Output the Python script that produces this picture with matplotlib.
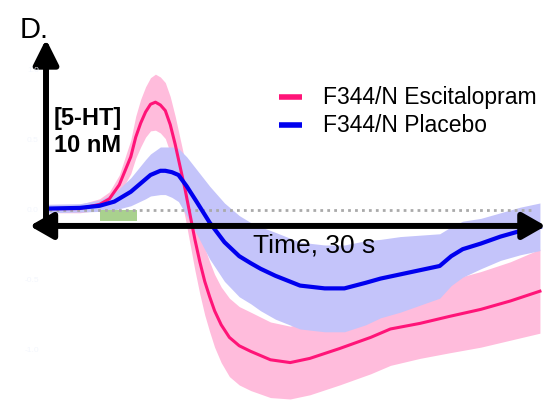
import matplotlib
matplotlib.use('Agg')
import matplotlib.pyplot as plt
import numpy as np

plt.rcParams['font.family'] = ['Liberation Sans', 'DejaVu Sans']

# time (s) and 5-HT change (nM)
esc_t = [0.0, 2.0, 3.2, 3.8, 4.4, 5.1, 5.4, 5.7, 6.0, 6.3, 6.6, 6.9, 7.2, 7.5, 7.8, 8.1,
         8.4, 8.7, 9.0, 9.3, 9.6, 9.9, 10.2, 10.6, 11.1, 11.7, 12.4, 13.6, 14.8, 16.0,
         17.8, 19.7, 20.9, 22.7, 24.5, 26.4, 28.2, 30.0]
esc_y = [0.01, 0.01, 0.04, 0.08, 0.18, 0.38, 0.52, 0.62, 0.70, 0.755, 0.77, 0.75, 0.71, 0.61, 0.47, 0.31,
         0.15, -0.03, -0.21, -0.37, -0.51, -0.62, -0.72, -0.82, -0.91, -0.97, -1.01, -1.07, -1.09, -1.06,
         -0.99, -0.91, -0.85, -0.81, -0.76, -0.71, -0.65, -0.58]
esc_err = [0.03, 0.03, 0.04, 0.05, 0.07, 0.12, 0.15, 0.17, 0.18, 0.19, 0.20, 0.20, 0.20, 0.20, 0.20, 0.20,
           0.20, 0.21, 0.22, 0.23, 0.24, 0.25, 0.26, 0.27, 0.28, 0.28, 0.28, 0.27, 0.26, 0.26,
           0.26, 0.26, 0.26, 0.25, 0.26, 0.27, 0.28, 0.30]

pla_t = [0.0, 2.0, 3.2, 4.1, 5.1, 6.0, 6.3, 6.9, 7.2, 7.6, 8.0, 8.5, 9.1, 9.9, 10.8, 11.7,
         12.4, 13.0, 13.9, 15.4, 16.9, 18.1, 19.4, 20.3, 21.5, 22.7, 23.9, 24.6, 25.3,
         26.4, 27.6, 28.8, 30.0]
pla_y = [0.01, 0.015, 0.03, 0.06, 0.13, 0.22, 0.25, 0.28, 0.28, 0.27, 0.25, 0.17, 0.06, -0.09, -0.23, -0.33,
         -0.38, -0.42, -0.47, -0.54, -0.56, -0.56, -0.52, -0.49, -0.46, -0.43, -0.40, -0.33, -0.28,
         -0.24, -0.19, -0.15, -0.12]
pla_err = [0.03, 0.03, 0.04, 0.06, 0.10, 0.14, 0.15, 0.17, 0.17, 0.18, 0.19, 0.21, 0.23, 0.26, 0.28, 0.29,
           0.29, 0.30, 0.31, 0.31, 0.31, 0.31, 0.30, 0.28, 0.27, 0.25, 0.23, 0.21, 0.20,
           0.18, 0.17, 0.17, 0.17]

stim = (3.2, 5.5)  # stimulation window, s
tick_vals = [1.0, 0.5, 0.0, -0.5, -1.0]

esc_t, esc_y, esc_err = map(np.array, (esc_t, esc_y, esc_err))
pla_t, pla_y, pla_err = map(np.array, (pla_t, pla_y, pla_err))

fig = plt.figure(figsize=(5.47, 4.06), dpi=100)
ax = fig.add_axes([0, 0, 1, 1])
ax.set_xlim(-2.86, 30.43)
ax.set_ylim(-1.393, 1.507)
ax.axis('off')

# bands then lines
ax.fill_between(esc_t, esc_y - esc_err, esc_y + esc_err, color='#ffbcdc', lw=0)
ax.fill_between(pla_t, pla_y - pla_err, pla_y + pla_err, color='#c4c4fa', lw=0)
ax.axhline(0, xmin=0.09, xmax=0.97, color='#aaaaaa', ls=(0, (1, 1.5)), lw=2)
ax.fill_between([stim[0], stim[1]], -0.08, 0, color='#a9d18e', lw=0)
ax.plot(esc_t, esc_y, color='#ff1478', lw=2.2)
ax.plot(pla_t, pla_y, color='#0000ee', lw=3)

# axis arrows
ax.annotate('', xy=(-0.06, 1.22), xytext=(-0.06, -0.14),
            arrowprops=dict(arrowstyle='-|>,head_length=1.5,head_width=0.75',
                            lw=4.3, color='black', shrinkA=0, shrinkB=0))
ax.annotate('', xy=(30.35, -0.114), xytext=(-1.05, -0.114),
            arrowprops=dict(arrowstyle='<|-|>,head_length=1.4,head_width=0.8',
                            lw=4.3, color='black', shrinkA=0, shrinkB=0))

# barely visible tick labels
for v in tick_vals:
    ax.text(-0.5, v, f'{v:.1f}', color='#f3f6fd', fontsize=6, ha='right', va='center')

ax.text(0.4, 0.565, '[5-HT]\n10 nM', fontsize=17, fontweight='bold', ha='left',
        va='center', linespacing=1.25)
ax.text(16.25, -0.245, 'Time, 30 s', fontsize=19, ha='center', va='center')
fig.text(0.035, 0.925, 'D.', fontsize=21, ha='left', va='center')

# legend
ax.plot([14.1, 15.5], [0.81, 0.81], color='#ff1478', lw=4, solid_capstyle='butt')
ax.plot([14.1, 15.5], [0.61, 0.61], color='#0000ee', lw=4, solid_capstyle='butt')
ax.text(16.8, 0.81, 'F344/N Escitalopram', fontsize=16.5, va='center')
ax.text(16.8, 0.61, 'F344/N Placebo', fontsize=16.5, va='center')

fig.savefig('out.png', dpi=100)
